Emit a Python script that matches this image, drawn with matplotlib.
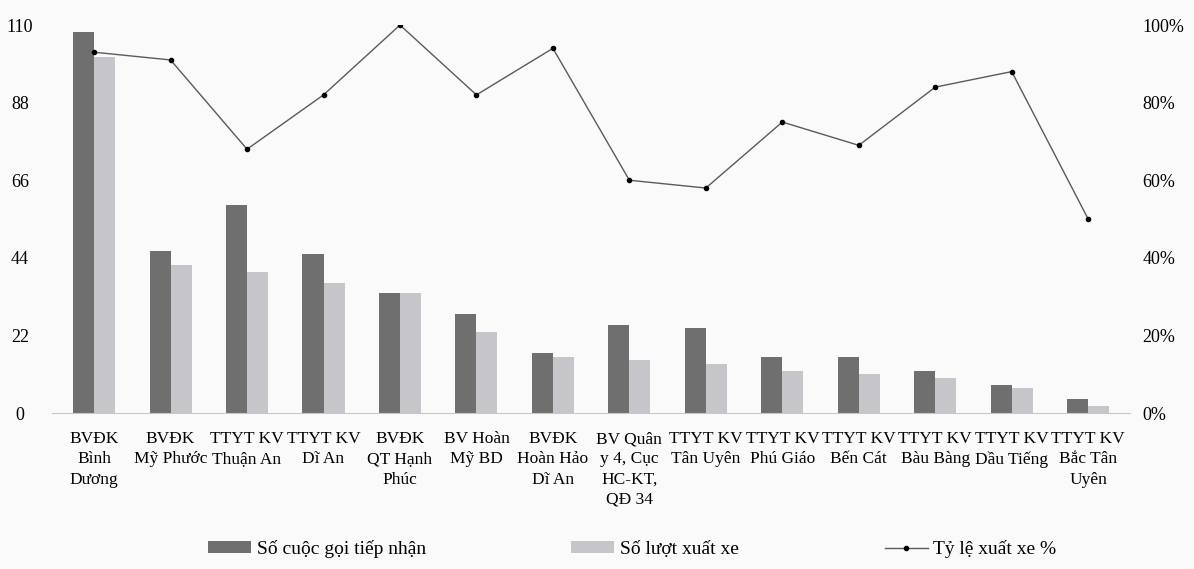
import matplotlib.pyplot as plt
import numpy as np
from matplotlib.ticker import PercentFormatter

# Data
categories = [
    "BVĐK\nBình\nDương", "BVĐK\nMỹ Phước", "TTYT KV\nThuận An", "TTYT KV\nDĩ An",
    "BVĐK\nQT Hạnh\nPhúc", "BV Hoàn\nMỹ BD", "BVĐK\nHoàn Hảo\nDĩ An",
    "BV Quân\ny 4, Cục\nHC-KT,\nQĐ 34", "TTYT KV\nTân Uyên", "TTYT KV\nPhú Giáo",
    "TTYT KV\nBến Cát", "TTYT KV\nBàu Bàng", "TTYT KV\nDầu Tiếng", "TTYT KV\nBắc Tân\nUyên",
]
calls = [108, 46, 59, 45, 34, 28, 17, 25, 24, 16, 16, 12, 8, 4]
dispatches = [101, 42, 40, 37, 34, 23, 16, 15, 14, 12, 11, 10, 7, 2]
rate = [93, 91, 68, 82, 100, 82, 94, 60, 58, 75, 69, 84, 88, 50]

left_ticks = [0, 22, 44, 66, 88, 110]

plt.rcParams["font.family"] = ["Liberation Serif", "DejaVu Serif"]

bg = "#fafafa"
fig = plt.figure(figsize=(11.94, 5.69), dpi=100, facecolor=bg)
ax = fig.add_axes([0.0436, 0.274, 0.903, 0.682])
ax.set_facecolor(bg)

x = np.arange(len(categories))
w = 0.275
b1 = ax.bar(x - w / 2, calls, w, color="#6f6f6f", label="Số cuộc gọi tiếp nhận")
b2 = ax.bar(x + w / 2, dispatches, w, color="#c6c6ca", label="Số lượt xuất xe")

ax.set_xlim(-0.55, len(categories) - 0.45)
ax.set_ylim(0, 110)
ax.set_yticks(left_ticks)
ax.set_xticks(x)
ax.set_xticklabels(categories, fontsize=12.5, linespacing=1.35)
ax.tick_params(axis="x", length=0, pad=13)
ax.tick_params(axis="y", length=0, pad=23, labelsize=13)
for lab in ax.get_yticklabels():
    lab.set_ha("center")

for s in ["top", "right", "left"]:
    ax.spines[s].set_visible(False)
ax.spines["bottom"].set_color("#c8c8c8")

# Secondary axis for the percentage line
ax2 = ax.twinx()
ln, = ax2.plot(x, rate, color="#5a5a5a", lw=1.0, marker="o", markersize=3,
               markerfacecolor="black", markeredgecolor="black",
               label="Tỷ lệ xuất xe %")
ax2.set_ylim(0, 100)
ax2.set_yticks([0, 20, 40, 60, 80, 100])
ax2.yaxis.set_major_formatter(PercentFormatter(decimals=0))
ax2.tick_params(axis="y", length=0, pad=9, labelsize=13)
for s in ["top", "right", "left", "bottom"]:
    ax2.spines[s].set_visible(False)

fig.legend(handles=[b1, b2, ln], loc="center", bbox_to_anchor=(0.5295, 0.035),
           ncol=3, frameon=False, fontsize=14, handlelength=2.2,
           handleheight=0.55, columnspacing=7.5, handletextpad=0.3)

fig.savefig("out.png", dpi=100, facecolor=bg)
